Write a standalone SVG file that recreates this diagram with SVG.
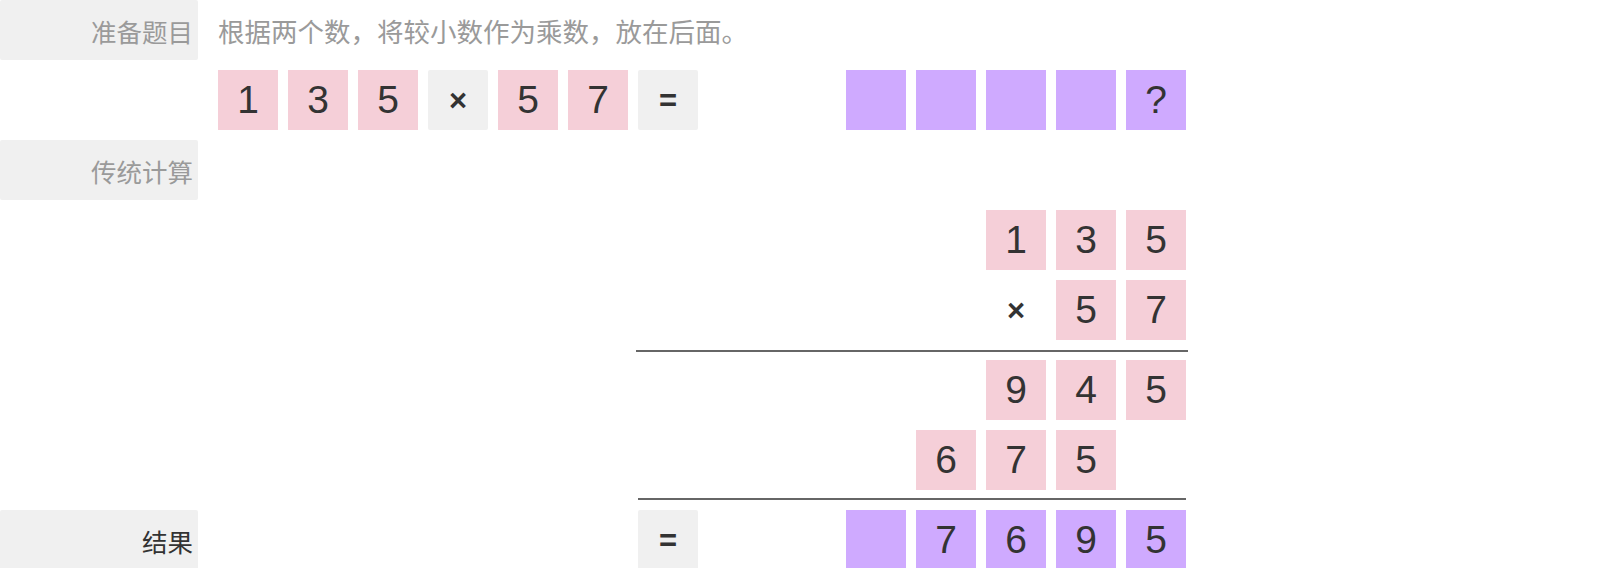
<svg xmlns="http://www.w3.org/2000/svg" width="1600" height="568" viewBox="0 0 1600 568">
<style>
.lbl{fill:#f0f0f0}
.lt{font-family:"Noto Sans CJK SC","Noto Sans",sans-serif;font-size:25.5px;text-anchor:end;dominant-baseline:central}
.g{fill:#9a9a9a}
.d{fill:#333}
.desc{font-family:"Noto Sans CJK SC","Noto Sans",sans-serif;font-size:26.5px;fill:#9a9a9a;dominant-baseline:central}
.p{fill:#f5cfd8}
.v{fill:#cfaaff}
.o{fill:#f0f0f0}
.n{font-family:"Liberation Sans",Arial,sans-serif;font-size:39px;fill:#333;text-anchor:middle}
.s{font-family:"Liberation Sans",Arial,sans-serif;font-size:31px;font-weight:bold;fill:#333;text-anchor:middle}
.ln{stroke:#666;stroke-width:2}
</style>
<g id="label-prepare"><rect class="lbl" x="0" y="0" width="198" height="60" rx="2"/><text class="lt g" x="193" y="30">准备题目</text></g>
<g id="desc"><text class="desc" x="218" y="30">根据两个数，将较小数作为乘数，放在后面。</text></g>
<g id="label-traditional"><rect class="lbl" x="0" y="140" width="198" height="60" rx="2"/><text class="lt g" x="193" y="170">传统计算</text></g>
<g id="label-result"><rect class="lbl" x="0" y="510" width="198" height="60" rx="2"/><text class="lt d" x="193" y="540">结果</text></g>

<g id="row1">
<rect class="p" x="218" y="70" width="60" height="60"/><text class="n" x="248" y="113">1</text>
<rect class="p" x="288" y="70" width="60" height="60"/><text class="n" x="318" y="113">3</text>
<rect class="p" x="358" y="70" width="60" height="60"/><text class="n" x="388" y="113">5</text>
<rect class="o" x="428" y="70" width="60" height="60" rx="2"/><text class="s" x="458" y="111">×</text>
<rect class="p" x="498" y="70" width="60" height="60"/><text class="n" x="528" y="113">5</text>
<rect class="p" x="568" y="70" width="60" height="60"/><text class="n" x="598" y="113">7</text>
<rect class="o" x="638" y="70" width="60" height="60" rx="2"/><text class="s" x="668" y="111">=</text>
<rect class="v" x="846" y="70" width="60" height="60"/>
<rect class="v" x="916" y="70" width="60" height="60"/>
<rect class="v" x="986" y="70" width="60" height="60"/>
<rect class="v" x="1056" y="70" width="60" height="60"/>
<rect class="v" x="1126" y="70" width="60" height="60"/><text class="n" x="1156" y="113">?</text>
</g>

<g id="multiplicand">
<rect class="p" x="986" y="210" width="60" height="60"/><text class="n" x="1016" y="253">1</text>
<rect class="p" x="1056" y="210" width="60" height="60"/><text class="n" x="1086" y="253">3</text>
<rect class="p" x="1126" y="210" width="60" height="60"/><text class="n" x="1156" y="253">5</text>
</g>
<g id="multiplier">
<text class="s" x="1016" y="321">×</text>
<rect class="p" x="1056" y="280" width="60" height="60"/><text class="n" x="1086" y="323">5</text>
<rect class="p" x="1126" y="280" width="60" height="60"/><text class="n" x="1156" y="323">7</text>
</g>
<g id="partial1">
<rect class="p" x="986" y="360" width="60" height="60"/><text class="n" x="1016" y="403">9</text>
<rect class="p" x="1056" y="360" width="60" height="60"/><text class="n" x="1086" y="403">4</text>
<rect class="p" x="1126" y="360" width="60" height="60"/><text class="n" x="1156" y="403">5</text>
</g>
<g id="partial2">
<rect class="p" x="916" y="430" width="60" height="60"/><text class="n" x="946" y="473">6</text>
<rect class="p" x="986" y="430" width="60" height="60"/><text class="n" x="1016" y="473">7</text>
<rect class="p" x="1056" y="430" width="60" height="60"/><text class="n" x="1086" y="473">5</text>
</g>
<g id="result">
<rect class="o" x="638" y="510" width="60" height="60" rx="2"/><text class="s" x="668" y="551">=</text>
<rect class="v" x="846" y="510" width="60" height="60"/>
<rect class="v" x="916" y="510" width="60" height="60"/><text class="n" x="946" y="553">7</text>
<rect class="v" x="986" y="510" width="60" height="60"/><text class="n" x="1016" y="553">6</text>
<rect class="v" x="1056" y="510" width="60" height="60"/><text class="n" x="1086" y="553">9</text>
<rect class="v" x="1126" y="510" width="60" height="60"/><text class="n" x="1156" y="553">5</text>
</g>
<g id="connectors">
<line class="ln" x1="636" y1="351" x2="1188" y2="351"/>
<line class="ln" x1="638" y1="499" x2="1186" y2="499"/>
</g>
</svg>
